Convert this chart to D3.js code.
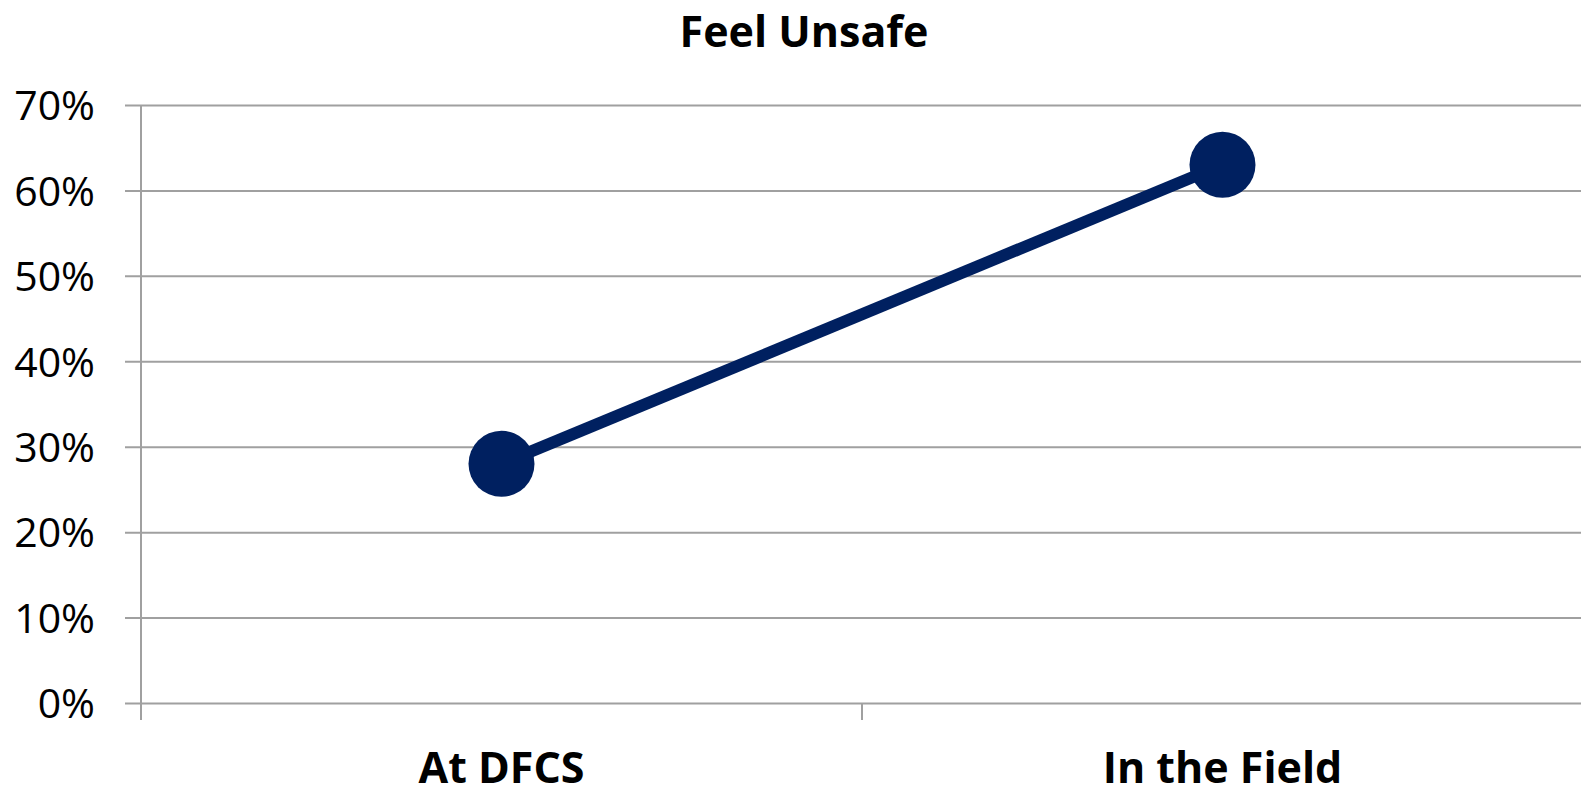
<!DOCTYPE html>
<html>
<head>
<meta charset="utf-8">
<script src="https://cdn.jsdelivr.net/npm/d3@7"></script>
<style>
  body { margin: 0; background: #fff; }
  text { font-family: "Open Sans", sans-serif; fill: #000; }
  .grid line { stroke: #a0a0a0; stroke-width: 2; }
  .grid .domain { display: none; }
  .yaxis .domain, .yaxis line { display: none; }
</style>
</head>
<body>
<script>
let categories = ['At DFCS', 'In the Field']
let values = [0.28, 0.63]
let yTicks = [0, 0.1, 0.2, 0.3, 0.4, 0.5, 0.6, 0.7]
let title = 'Feel Unsafe'

let width = 1581
let height = 795
const margin = { top: 105, right: -2, bottom: 92, left: 141 };

let svg = d3.select('body')
    .append('svg')
    .attr('width', width)
    .attr('height', height)

let x = d3.scaleBand().domain(categories).range([margin.left, width - margin.right]).padding(0)
let y = d3.scaleLinear().domain([0, 0.7]).range([height - margin.bottom, margin.top])

// horizontal gridlines
svg.append('g')
    .attr('class', 'grid')
    .attr('transform', `translate(${margin.left},0)`)
    .call(d3.axisLeft(y).tickValues(yTicks).tickSizeOuter(0).tickFormat(''))
    .selectAll('line').attr('x1', -16).attr('x2', width - margin.left)

// y labels
let yAxis = svg.append('g')
    .attr('class', 'yaxis')
    .attr('transform', `translate(${margin.left},0)`)
    .call(d3.axisLeft(y).tickValues(yTicks).tickFormat(d3.format('.0%')).tickSize(0).tickPadding(46))
yAxis.selectAll('text').attr('font-size', 41).attr('dy', '0.36em')

// vertical axis line
svg.append('line')
    .attr('x1', margin.left).attr('x2', margin.left)
    .attr('y1', y(0.7)).attr('y2', y(0) + 17)
    .attr('stroke', '#a0a0a0').attr('stroke-width', 2)

// category boundary ticks
let bounds = categories.map(c => x(c)).concat([x(categories[categories.length - 1]) + x.bandwidth()])
svg.append('g').selectAll('line.btick').data(bounds)
    .join('line')
    .attr('class', 'btick')
    .attr('x1', d => d).attr('x2', d => d)
    .attr('y1', y(0)).attr('y2', y(0) + 17)
    .attr('stroke', '#a0a0a0').attr('stroke-width', 2)

// x labels
svg.append('g').selectAll('text.xlab').data(categories)
    .join('text')
    .attr('class', 'xlab')
    .attr('x', d => x(d) + x.bandwidth() / 2)
    .attr('y', 783)
    .attr('text-anchor', 'middle')
    .attr('font-size', 43)
    .attr('font-weight', 'bold')
    .text(d => d)

// line + markers
let pts = categories.map((c, i) => [x(c) + x.bandwidth() / 2, y(values[i])])
svg.append('path')
    .datum(pts)
    .attr('d', d3.line())
    .attr('fill', 'none')
    .attr('stroke', '#002060')
    .attr('stroke-width', 12)

svg.selectAll('circle.pt').data(pts)
    .join('circle')
    .attr('class', 'pt')
    .attr('cx', d => d[0])
    .attr('cy', d => d[1])
    .attr('r', 33)
    .attr('fill', '#002060')

// title
svg.append('text')
    .attr('x', 804)
    .attr('y', 47)
    .attr('text-anchor', 'middle')
    .attr('font-size', 43)
    .attr('font-weight', 'bold')
    .text(title)
</script>
</body>
</html>
